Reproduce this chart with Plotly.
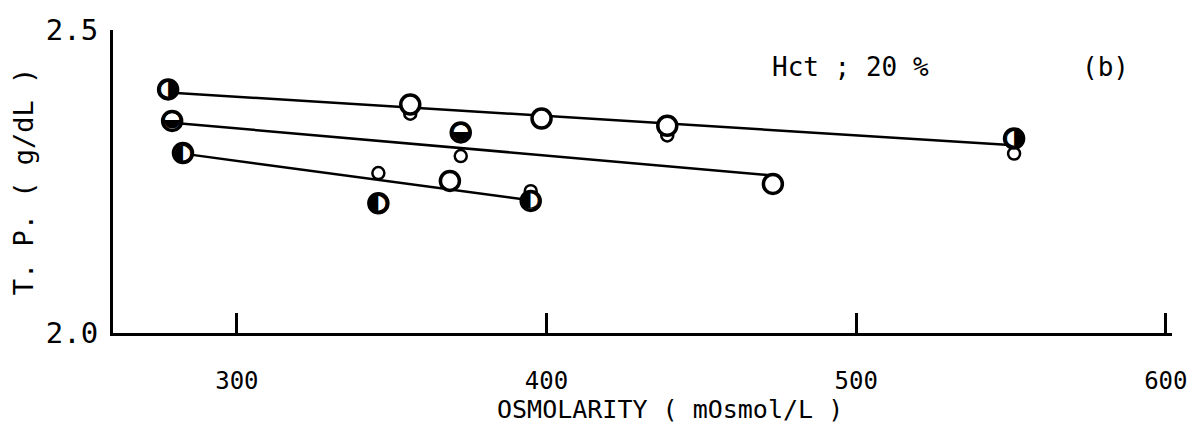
import plotly.graph_objects as go

# ---- data ----
# regression lines (end points)
line_top_x = [277.8, 551.0]
line_top_y = [2.397, 2.310]
line_mid_x = [279.1, 473.1]
line_mid_y = [2.347, 2.260]
line_bot_x = [282.6, 394.9]
line_bot_y = [2.296, 2.219]

# half-filled markers
right_half_x = [277.8, 551.0]
right_half_y = [2.402, 2.321]
lower_half_x = [279.1, 372.3]
lower_half_y = [2.350, 2.331]
left_half_x = [282.6, 345.7, 394.9]
left_half_y = [2.297, 2.214, 2.218]

# large open markers
open_big_x = [356.0, 398.4, 439.0, 473.1, 368.8]
open_big_y = [2.377, 2.354, 2.342, 2.246, 2.251]

# small open markers
open_small_x = [356.0, 439.0, 551.0, 372.3, 345.7, 394.9]
open_small_y = [2.362, 2.326, 2.296, 2.292, 2.264, 2.234]

x_ticks = [300, 400, 500, 600]
y_ticks = [2.0, 2.5]
y_tick_text = ["2.0", "2.5"]

FONT = "DejaVu Sans Mono"

fig = go.Figure()

for lx, ly in [(line_top_x, line_top_y), (line_mid_x, line_mid_y), (line_bot_x, line_bot_y)]:
    fig.add_trace(go.Scatter(x=lx, y=ly, mode="lines",
                             line=dict(color="black", width=2.5),
                             showlegend=False, hoverinfo="skip"))

# small open circles
fig.add_trace(go.Scatter(x=open_small_x, y=open_small_y, mode="markers",
                         marker=dict(symbol="circle", size=12, color="white",
                                     line=dict(color="black", width=2.5)),
                         showlegend=False))

# large circles (outline for all big markers)
big_x = open_big_x + right_half_x + lower_half_x + left_half_x
big_y = open_big_y + right_half_y + lower_half_y + left_half_y
fig.add_trace(go.Scatter(x=big_x, y=big_y, mode="markers",
                         marker=dict(symbol="circle", size=19, color="white",
                                     line=dict(color="black", width=3.5)),
                         showlegend=False))

# half fills as glyphs
for gx, gy, ch in [(right_half_x, right_half_y, "\u25D1"),
                   (lower_half_x, lower_half_y, "\u25D2"),
                   (left_half_x, left_half_y, "\u25D0")]:
    fig.add_trace(go.Scatter(x=gx, y=gy, mode="text", text=[ch] * len(gx),
                             textposition="middle center",
                             textfont=dict(family="DejaVu Sans", size=22, color="black"),
                             showlegend=False, hoverinfo="skip"))

fig.add_annotation(x=0.696, y=0.878, xref="paper", yref="paper", text="Hct ; 20 %",
                   xanchor="center", yanchor="middle",
                   showarrow=False, font=dict(family=FONT, size=26, color="black"))
fig.add_annotation(x=0.937, y=0.878, xref="paper", yref="paper", text="(b)",
                   xanchor="center", yanchor="middle",
                   showarrow=False, font=dict(family=FONT, size=26, color="black"))
fig.add_annotation(x=0.526, y=-0.254, xref="paper", yref="paper",
                   text="OSMOLARITY ( mOsmol/L )",
                   xanchor="center", yanchor="middle",
                   showarrow=False, font=dict(family=FONT, size=25, color="black"))

fig.update_layout(
    width=1200, height=440,
    margin=dict(l=105, r=36, t=22, b=115),
    plot_bgcolor="white", paper_bgcolor="white",
    font=dict(family=FONT, color="black"),
    xaxis=dict(range=[260, 602], tickvals=x_ticks, ticktext=[str(v) for v in x_ticks],
               ticks="inside", ticklen=20, tickwidth=2.5, tickcolor="black",
               showline=True, linecolor="black", linewidth=3, showgrid=False, zeroline=False,
               tickfont=dict(family=FONT, size=24), ticklabelstandoff=24,
               automargin=False),
    yaxis=dict(range=[2.0, 2.5], tickvals=y_ticks, ticktext=y_tick_text,
               ticks="inside", ticklen=16, tickwidth=3, tickcolor="black",
               showline=True, linecolor="black", linewidth=3, showgrid=False, zeroline=False,
               tickfont=dict(family=FONT, size=29), ticklabelstandoff=6,
               automargin=False,
               title=dict(text="T. P. ( g/dL )", font=dict(family=FONT, size=27),
                          standoff=8)),
)

fig.write_html("out.html")
